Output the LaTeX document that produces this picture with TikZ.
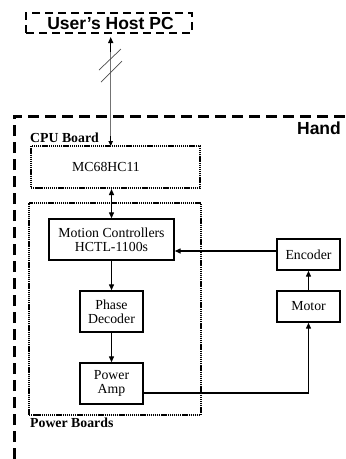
\documentclass[tikz,border=0pt]{standalone}
\usepackage{fontspec}
\setmainfont{Liberation Serif}
\newfontfamily\headsans{Liberation Sans}
\usetikzlibrary{arrows.meta}
\tikzset{
  serif/.style={font=\fontsize{13.8}{14}\selectfont},
  headtext/.style={font=\headsans\bfseries\fontsize{17.5}{18}\selectfont, inner sep=0pt},
  boardlabel/.style={font=\bfseries\fontsize{13.8}{14}\selectfont, inner sep=0pt, anchor=west},
  blockbox/.style={draw, line width=1.4pt, serif, align=center, inner sep=0pt},
  dotbox/.style={draw, line width=2pt, dash pattern=on 1.3pt off 0.8pt, inner sep=0pt},
  pcbox/.style={draw, line width=2.5pt, dash pattern=on 8pt off 5pt, inner sep=0pt},
  handline/.style={line width=3pt, dash pattern=on 11pt off 6pt},
  arr/.style={line width=1.3pt, -{Triangle[length=6pt,width=5pt]}},
  darr/.style={line width=1.3pt, {Triangle[length=6pt,width=5pt]}-{Triangle[length=6pt,width=5pt]}},
}
\begin{document}
\begin{tikzpicture}[x=1pt,y=-1pt]
\useasboundingbox (0,0) rectangle (346,459);
% Host PC
\node[pcbox, minimum width=166pt, minimum height=20pt] (host) at (109,23) {};
\node[headtext] (hosttext) at (110.5,23) {User’s Host PC};
% Hand enclosure
\coordinate (handbl) at (14,459);
\coordinate (handtl) at (14,116);
\coordinate (handtr) at (346,116);
\draw[handline] (handbl) -- (handtl) -- (handtr);
\node[headtext] (hand) at (319,128) {Hand};
% CPU board
\node[boardlabel] (cpulabel) at (30,138) {CPU Board};
\node[dotbox, minimum width=169pt, minimum height=42pt] (cpu) at (115.5,167) {};
\node[serif] (mc) at (106,167) {MC68HC11};
% Power boards
\node[dotbox, minimum width=172pt, minimum height=212pt] (pwr) at (115,309) {};
\node[boardlabel] (pwrlabel) at (30,423) {Power Boards};
% blocks
\node[blockbox, minimum width=125pt, minimum height=41pt] (motion) at (111.5,239.5) {Motion Controllers\\HCTL-1100s};
\node[blockbox, minimum width=63pt, minimum height=41pt] (phase) at (111.5,311.5) {Phase\\Decoder};
\node[blockbox, minimum width=63pt, minimum height=41pt] (amp) at (111.5,383.5) {Power\\Amp};
\node[blockbox, minimum width=63pt, minimum height=31pt] (enc) at (308.5,254.5) {Encoder};
\node[blockbox, minimum width=63pt, minimum height=31pt] (motor) at (308.5,306.5) {Motor};
% host link
\coordinate (linkbot) at (110.7,146);
\coordinate (linkmid) at (110.7,52);
\coordinate (linktop) at (110.7,37);
\draw[line width=0.8pt, black!55] (linkbot) -- (linkmid);
\draw[arr, line width=1.2pt] (linkmid) -- (linktop);
\draw[line width=0.8pt, -{Triangle[length=5pt,width=4.5pt]}] (110.7,136) -- (linkbot);
\coordinate (s1a) at (99,70);  \coordinate (s1b) at (121,49);
\coordinate (s2a) at (101,82); \coordinate (s2b) at (122,61);
\draw[line width=0.7pt, black!70] (s1a) -- (s1b);
\draw[line width=0.7pt, black!70] (s2a) -- (s2b);
% connectors
\draw[darr] (cpu.south -| motion) -- (motion.north);
\draw[arr] (motion.south) -- (phase.north);
\draw[arr] (phase.south) -- (amp.north);
\draw[arr] (enc.west |- 0,251) -- (motion.east |- 0,251);
\draw[arr] (amp.east |- 0,393) -| (motor.south);
\draw[arr] (motor.north) -- (enc.south);
\end{tikzpicture}
\end{document}
